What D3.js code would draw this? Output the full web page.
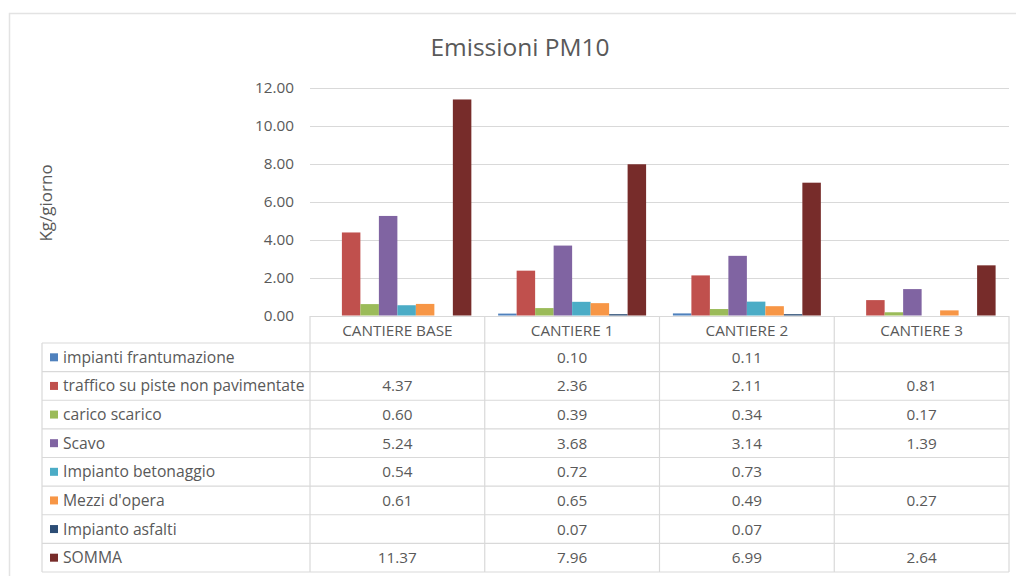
<!DOCTYPE html>
<html>
<head>
<meta charset="utf-8">
<script src="https://cdn.jsdelivr.net/npm/d3@7/dist/d3.min.js"></script>
<style>
  html, body { margin: 0; padding: 0; background: #fff; }
  svg { display: block; font-family: "Open Sans", Lato, sans-serif; }
</style>
</head>
<body>
<svg id="chart" width="1016" height="576"></svg>
<script>
const title = "Emissioni PM10";
const yAxisLabel = "Kg/giorno";
const categories = ["CANTIERE BASE", "CANTIERE 1", "CANTIERE 2", "CANTIERE 3"];
const seriesNames = ["impianti frantumazione", "traffico su piste non pavimentate", "carico scarico", "Scavo", "Impianto betonaggio", "Mezzi d'opera", "Impianto asfalti", "SOMMA"];
const seriesColors = ["#4F81BD", "#C0504D", "#9BBB59", "#8064A2", "#4BACC6", "#F79646", "#2C4D75", "#772C2A"];
const impiantiFrantumazione = [null, 0.10, 0.11, null];
const trafficoPiste = [4.37, 2.36, 2.11, 0.81];
const caricoScarico = [0.60, 0.39, 0.34, 0.17];
const scavo = [5.24, 3.68, 3.14, 1.39];
const impiantoBetonaggio = [0.54, 0.72, 0.73, null];
const mezziOpera = [0.61, 0.65, 0.49, 0.27];
const impiantoAsfalti = [null, 0.07, 0.07, null];
const somma = [11.37, 7.96, 6.99, 2.64];
const yTicks = [0, 2, 4, 6, 8, 10, 12];

const seriesValues = [impiantiFrantumazione, trafficoPiste, caricoScarico, scavo, impiantoBetonaggio, mezziOpera, impiantoAsfalti, somma];
const series = seriesNames.map((name, i) => ({ name, color: seriesColors[i], values: seriesValues[i] }));

const svg = d3.select("#chart");
const textColor = "#595959";
const gridColor = "#D9D9D9";
const font = "'Open Sans', sans-serif";

// outer frame
svg.append("rect").attr("x", 9.5).attr("y", 13.5).attr("width", 1010).attr("height", 580)
  .attr("fill", "none").attr("stroke", "#E3E3E3").attr("stroke-width", 1.5);

const plotLeft = 310, plotRight = 1009, plotTop = 87.5, plotBottom = 315.5;

const x0 = d3.scaleBand().domain(categories).range([plotLeft, plotRight]).padding(0);
const groupPad = 13.4;
const x1 = d3.scaleBand().domain(seriesNames).range([groupPad, x0.bandwidth() - groupPad]).padding(0);
const y = d3.scaleLinear().domain([0, 12]).range([plotBottom, plotTop]);

// title
svg.append("text").attr("x", 520).attr("y", 56).attr("text-anchor", "middle")
  .attr("font-size", 24.5).attr("fill", textColor).text(title);

// gridlines
svg.append("g").selectAll("line").data(yTicks).join("line")
  .attr("x1", plotLeft).attr("x2", plotRight)
  .attr("y1", d => Math.round(y(d)) + 0.5).attr("y2", d => Math.round(y(d)) + 0.5)
  .attr("stroke", gridColor).attr("stroke-width", 1.2);

// y axis labels
const yAxis = d3.axisLeft(y).tickValues(yTicks).tickFormat(d3.format(".2f")).tickSize(0).tickPadding(16);
const yg = svg.append("g").attr("transform", `translate(${plotLeft},0)`).call(yAxis);
yg.select(".domain").remove();
yg.selectAll("text").attr("font-size", 15.3).attr("fill", textColor).attr("font-family", font);

// y axis title
svg.append("text").attr("transform", "translate(52,203) rotate(-90)").attr("text-anchor", "middle")
  .attr("font-size", 17).attr("fill", textColor).text(yAxisLabel);

// bars
const groups = svg.append("g").selectAll("g").data(categories).join("g")
  .attr("transform", d => `translate(${x0(d)},0)`);
groups.selectAll("rect").data((c, ci) => series.map(s => ({ name: s.name, color: s.color, v: s.values[ci] })).filter(d => d.v != null))
  .join("rect")
  .attr("x", d => x1(d.name))
  .attr("width", x1.bandwidth())
  .attr("y", d => y(d.v))
  .attr("height", d => y(0) - y(d.v))
  .attr("fill", d => d.color);

// data table
const headerTop = 316, headerBottom = 343;
const rowH = (572 - 343) / 8;
const tableLeft = 42;
const tg = svg.append("g");
const tl = (x1_, y1_, x2_, y2_) => tg.append("line").attr("x1", x1_).attr("y1", y1_).attr("x2", x2_).attr("y2", y2_)
  .attr("stroke", gridColor).attr("stroke-width", 1.2);

const colEdges = categories.map(c => x0(c)).concat([plotRight]);
colEdges.forEach(xv => tl(xv, headerTop, xv, 572));
tl(tableLeft, headerBottom, tableLeft, 572);
tl(plotLeft, headerTop + 0.5, plotRight, headerTop + 0.5);
for (let r = 0; r <= 8; r++) {
  const yy = headerBottom + r * rowH;
  tl(tableLeft, yy, plotRight, yy);
}
tg.selectAll("text.hdr").data(categories).join("text").attr("class", "hdr")
  .attr("x", d => x0(d) + x0.bandwidth() / 2).attr("y", 336).attr("text-anchor", "middle")
  .attr("font-size", 15.3).attr("fill", textColor).text(d => d);

series.forEach((s, i) => {
  const cy = headerBottom + i * rowH + rowH / 2;
  tg.append("rect").attr("x", 50).attr("y", cy - 4).attr("width", 8).attr("height", 8).attr("fill", s.color);
  tg.append("text").attr("x", 63).attr("y", cy + 5.5).attr("font-size", 15.7).attr("fill", textColor).text(s.name);
  categories.forEach((c, ci) => {
    const v = s.values[ci];
    if (v == null) return;
    tg.append("text").attr("x", x0(c) + x0.bandwidth() / 2).attr("y", cy + 5.5).attr("text-anchor", "middle")
      .attr("font-size", 15.3).attr("fill", textColor).text(d3.format(".2f")(v));
  });
});
</script>
</body>
</html>
